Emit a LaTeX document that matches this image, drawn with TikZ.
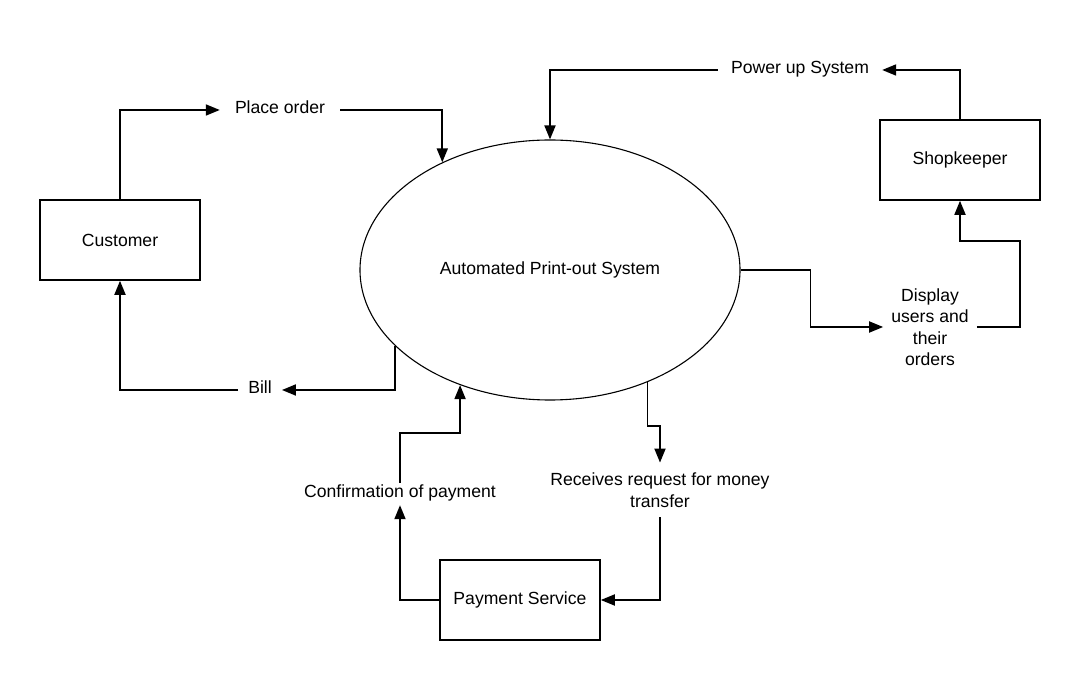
\documentclass[tikz,border=0pt]{standalone}
\usepackage{fontspec}
\setmainfont{Liberation Sans}
\usetikzlibrary{shapes.geometric, arrows.meta}

\begin{document}
\begin{tikzpicture}[
    x=1pt, y=1pt,
    font=\fontsize{17.6}{21.5}\selectfont,
    entity/.style={
        rectangle,
        draw=black, line width=1.6pt,
        minimum width=160pt,
        minimum height=80pt,
        inner sep=0pt
    },
    process/.style={
        ellipse,
        draw=black, line width=1.1pt,
        minimum width=380pt,
        minimum height=260pt,
        inner sep=0pt
    },
    flow_label/.style={
        inner xsep=13pt, inner ysep=2.5pt,
        text height=12.5pt, text depth=4.5pt
    },
    multi_label/.style={
        align=center,
        inner xsep=8pt, inner ysep=10pt
    },
    arrow/.style={
        line width=1.8pt, -{Triangle[length=14pt, width=11pt]}
    }
]

\useasboundingbox (0,0) rectangle (1080,680);

\node (system) [process] at (550,410) {Automated Print-out System};
\node (customer) [entity] at (120,440) {Customer};
\node (shopkeeper) [entity] at (960,520) {Shopkeeper};
\node (payment) [entity] at (520,80) {Payment Service};

\node (order) [flow_label, inner xsep=15pt] at (280,570) {Place order};
\node (power) [flow_label] at (800,610) {Power up System};
\node (bill) [flow_label, inner xsep=10pt] at (260,290) {Bill};
\node (confirm) [flow_label] at (400,186) {Confirmation of payment};
\node (request) [multi_label] at (660,190) {Receives request for money\\transfer};
\node (display) [multi_label, inner ysep=0pt] at (930,353) {Display\\users and\\their\\orders};

\draw [arrow] (customer.north) |- (order.west);
\draw [arrow] (order.east) -| (system.135);
\draw [arrow] (shopkeeper.north) |- (power.east);
\draw [arrow] (power.west) -| (system.north);
\draw [arrow] (system.east) -- ([xshift=70pt]system.east) |- (display.west);
\draw [arrow] (display.east) -| ([shift={(60pt,-40pt)}]shopkeeper.south) -| (shopkeeper.south);
\draw [arrow] (system.206) |- (bill.east);
\draw [arrow] (bill.west) -| (customer.south);
\draw [arrow] (system.311) -- ([yshift=-44pt]system.311) -| (request.north);
\draw [arrow] (request.south) |- (payment.east);
\draw [arrow] (payment.west) -| (confirm.south);
\draw [arrow] (confirm.north) |- ([yshift=-48pt]system.232) -- (system.232);

\end{tikzpicture}
\end{document}
